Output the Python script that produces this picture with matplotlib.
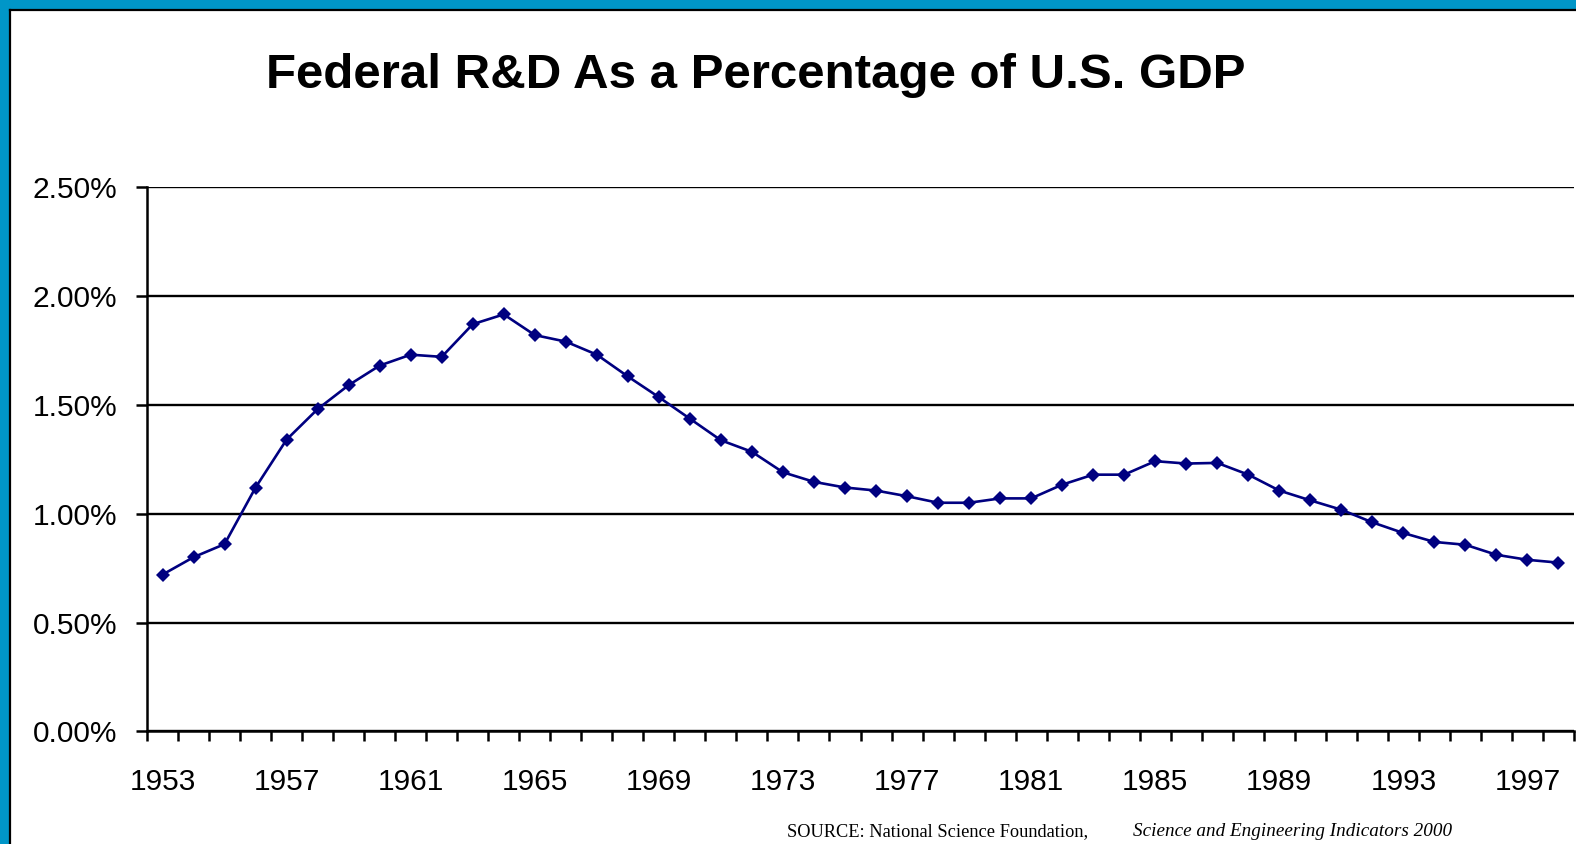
import matplotlib
matplotlib.use("Agg")
import matplotlib.pyplot as plt
from matplotlib.patches import Rectangle
from matplotlib.lines import Line2D
from matplotlib.ticker import FixedLocator, FuncFormatter

years = list(range(1953, 1999))
pct = [0.72, 0.80, 0.86, 1.12, 1.34, 1.48, 1.59, 1.68, 1.73, 1.72,
       1.87, 1.915, 1.82, 1.79, 1.73, 1.63, 1.535, 1.436, 1.337, 1.284,
       1.19, 1.146, 1.12, 1.106, 1.08, 1.05, 1.05, 1.07, 1.07, 1.133,
       1.179, 1.179, 1.241, 1.23, 1.233, 1.179, 1.106, 1.061, 1.018, 0.96,
       0.911, 0.87, 0.857, 0.811, 0.788, 0.775]
label_years = [1953, 1957, 1961, 1965, 1969, 1973, 1977, 1981, 1985, 1989, 1993, 1997]
y_ticks = [0.0, 0.5, 1.0, 1.5, 2.0, 2.5]

title = "Federal R&D As a Percentage of U.S. GDP"
source_a = "SOURCE: National Science Foundation,"
source_b = "Science and Engineering Indicators 2000"

W, H = 1576, 844
fig = plt.figure(figsize=(W / 100, H / 100), dpi=100)
fig.patch.set_facecolor("white")

# slide frame
blue = "#0096C8"
fig.patches.append(Rectangle((0, 1 - 9 / H), 1, 9 / H, transform=fig.transFigure,
                             facecolor=blue, edgecolor="none", zorder=0))
fig.patches.append(Rectangle((0, 0), 9 / W, 1, transform=fig.transFigure,
                             facecolor=blue, edgecolor="none", zorder=0))
fig.lines.append(Line2D([9.5 / W, 1], [1 - 9.5 / H, 1 - 9.5 / H], transform=fig.transFigure,
                        color="black", lw=1.6))
fig.lines.append(Line2D([9.5 / W, 9.5 / W], [0, 1 - 9.5 / H], transform=fig.transFigure,
                        color="black", lw=1.6))

left, right = 147 / W, 1574 / W
bottom, top = 1 - 731.4 / H, 1 - 187 / H
ax = fig.add_axes([left, bottom, right - left, top - bottom])
ax.set_facecolor("none")

ax.plot(years, pct, color="#000080", lw=1.9, marker="D", markersize=7,
        markeredgewidth=0, clip_on=False, zorder=3)

ax.set_xlim(1952.5, 1998.5)
ax.set_ylim(0, 2.5)

for s in ["top", "right"]:
    ax.spines[s].set_visible(False)
ax.spines["left"].set_linewidth(1.8)
ax.spines["bottom"].set_linewidth(1.8)
ax.spines["left"].set_color("black")
ax.spines["bottom"].set_color("black")

ax.yaxis.set_major_locator(FixedLocator(y_ticks))
ax.yaxis.set_major_formatter(FuncFormatter(lambda v, p: f"{v:.2f}%"))
ax.yaxis.grid(True, color="black", lw=1.7)
ax.set_axisbelow(True)

ax.xaxis.set_major_locator(FixedLocator(label_years))
ax.xaxis.set_minor_locator(FixedLocator([y - 0.5 for y in years] + [1998.5]))
ax.set_xticklabels([str(y) for y in label_years])

ax.tick_params(axis="y", which="major", length=8, width=1.8, direction="out",
               labelsize=21.5, pad=13.5, colors="black")
ax.tick_params(axis="x", which="major", length=0, labelsize=21.5, pad=26)
ax.tick_params(axis="x", which="minor", length=7, width=1.8, direction="out")
for lab in ax.get_xticklabels() + ax.get_yticklabels():
    lab.set_fontfamily("Liberation Sans")

fig.text(756 / W, 1 - 88 / H, title, ha="center", va="baseline",
         fontsize=35.5, fontweight="bold", family="Liberation Sans")
fig.text(787 / W, 1 - 836 / H, source_a, ha="left", va="baseline",
         fontsize=13.2, family="Liberation Serif")
fig.text(1133 / W, 1 - 836 / H, source_b, ha="left", va="baseline",
         fontsize=13.8, family="Liberation Serif", style="italic")

fig.savefig("out.png", dpi=100, facecolor="white")
